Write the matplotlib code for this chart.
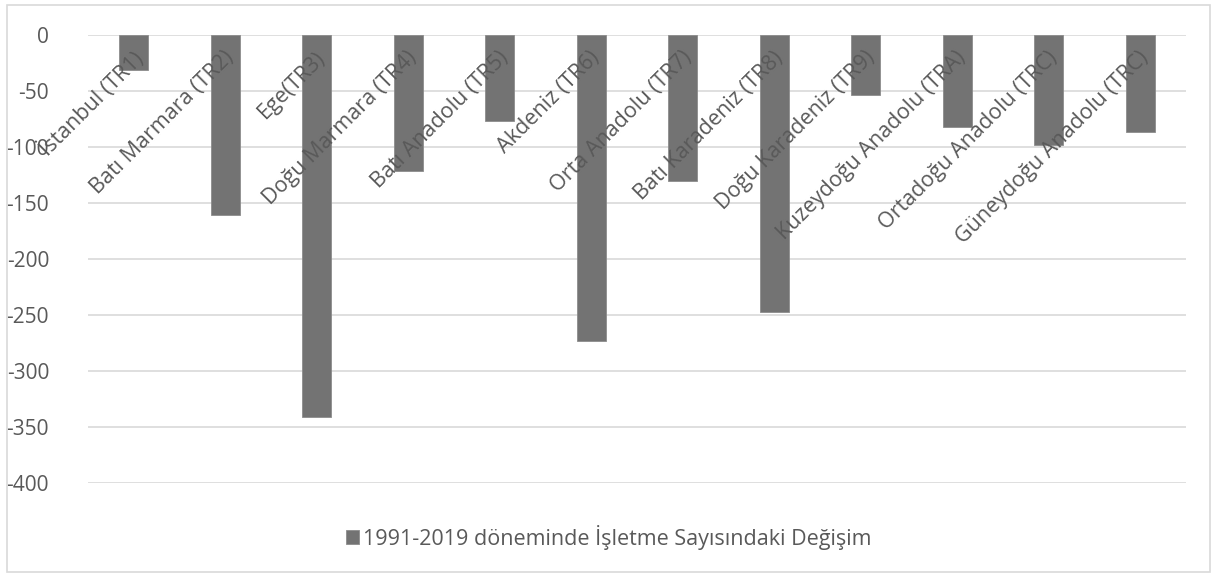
import numpy as np
import matplotlib.pyplot as plt
from matplotlib.patches import Rectangle

plt.rcParams['font.family'] = ['Open Sans', 'DejaVu Sans']
plt.rcParams['axes.unicode_minus'] = False

bolgeler = ["İstanbul (TR1)", "Batı Marmara (TR2)", "Ege(TR3)", "Doğu Marmara (TR4)",
            "Batı Anadolu (TR5)", "Akdeniz (TR6)", "Orta Anadolu (TR7)", "Batı Karadeniz (TR8)",
            "Doğu Karadeniz (TR9)", "Kuzeydoğu Anadolu (TRA)", "Ortadoğu Anadolu (TRC)",
            "Güneydoğu Anadolu (TRC)"]
degisim = [-31, -161, -341, -121, -77, -273, -130, -247, -54, -82, -98, -87]
seri_adi = "1991-2019 döneminde İşletme Sayısındaki Değişim"

renk = "#737373"
yazi = "#595959"

fig = plt.figure(figsize=(12.17, 5.75), dpi=100)
ax = fig.add_axes([0.0723, 0.16, 0.9022, 0.7791])

x = np.arange(len(bolgeler))
ax.bar(x, degisim, width=0.32, color=renk, edgecolor="#8c8c8c", linewidth=0.6,
       label=seri_adi, zorder=3)

ax.set_xlim(-0.5, len(bolgeler) - 0.5)
ax.set_ylim(-400, 0)
ax.set_yticks(np.arange(-400, 1, 50))
ax.yaxis.grid(True, color="#d9d9d9", linewidth=1.2, zorder=0)
ax.tick_params(axis='y', length=0, labelsize=15, labelcolor=yazi, pad=28)
ax.set_xticks([])
for s in ax.spines.values():
    s.set_visible(False)

for xi, ad in zip(x, bolgeler):
    ax.text(xi - 0.02, -11, ad, rotation=45, rotation_mode='anchor',
            ha='right', va='top', fontsize=15.5, color=yazi, zorder=4)

fig.legend(loc='lower center', bbox_to_anchor=(0.5, 0.01), frameon=False,
           fontsize=15.5, labelcolor=yazi, handlelength=0.6, handleheight=0.6,
           handletextpad=0.2)

fig.patches.append(Rectangle((0.006, 0.005), 0.988, 0.986, transform=fig.transFigure,
                             fill=False, edgecolor="#d9d9d9", linewidth=1.2))

fig.savefig("out.png", dpi=100)
